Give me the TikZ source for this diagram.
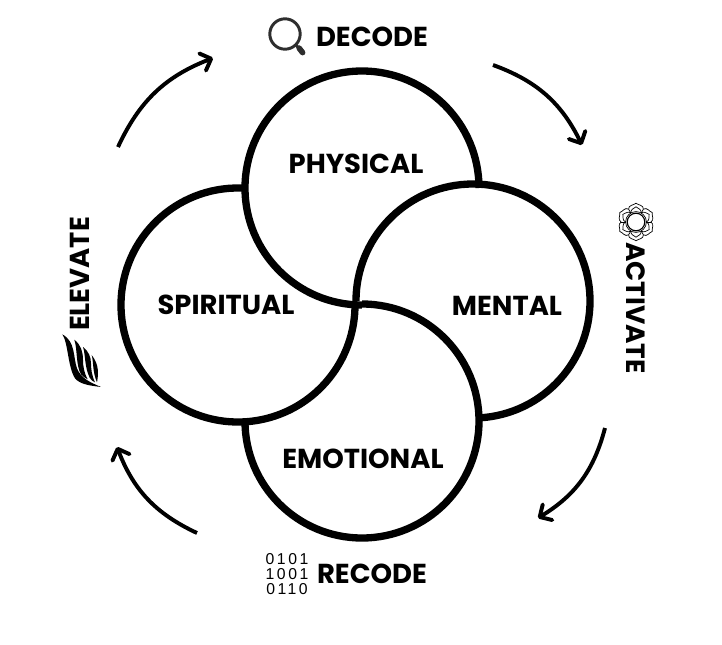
\documentclass[tikz,border=0pt]{standalone}
\usepackage{fontspec}
\setmainfont{Poppins}
\newfontfamily\digitfont[LetterSpace=16]{Liberation Sans}
\usepackage{xcolor}
\definecolor{Ink}{HTML}{000000}
\definecolor{InkSoft}{HTML}{2E2E2E}
\usetikzlibrary{arrows.meta, calc}

\begin{document}
\begin{tikzpicture}[
  ring/.style={line width=5.2pt, draw=Ink, line cap=butt},
  flow/.style={-{Straight Barb[length=6.5pt, width=13pt, line width=2.8pt, round]}, line width=2.8pt, draw=Ink, bend left=22},
  tag/.style={font=\fontsize{19.5}{23}\selectfont\bfseries, text=Ink, inner sep=0pt},
  bits/.style={font=\fontsize{11.2}{10.6}\selectfont\digitfont, text=Ink, inner sep=0pt, align=center},
  lens/.style={line width=2.1pt, draw=InkSoft},
  petal/.style={line width=0.5pt, draw=Ink}
]
\useasboundingbox (-8.925,-8.475) rectangle (9.125,7.625);

%% ---- Ring centres ----
\def\ringr{2.925}
\coordinate (physical)  at ( 0.125, 2.925);
\coordinate (mental)    at ( 2.900, 0.100);
\coordinate (emotional) at ( 0.125,-2.900);
\coordinate (spiritual) at (-2.975, 0.000);

%% ---- Rings, each one open on the quarter that the next one crosses ----
\draw[ring] ([shift={(0:\ringr)}]physical)   arc[start angle=0,   end angle=270,  radius=\ringr];
\draw[ring] ([shift={(273:\ringr)}]mental)   arc[start angle=273, end angle=540,  radius=\ringr];
\draw[ring] ([shift={(90:\ringr)}]emotional) arc[start angle=90,  end angle=-180, radius=\ringr];
\draw[ring] ([shift={(86:\ringr)}]spiritual) arc[start angle=86,  end angle=360,  radius=\ringr];

%% ---- Ring labels ----
\node[tag] (physicaltxt)  at (-0.025, 3.525) {PHYSICAL};
\node[tag] (spiritualtxt) at (-3.275, 0.000) {SPIRITUAL};
\node[tag] (mentaltxt)    at ( 3.750,-0.025) {MENTAL};
\node[tag] (emotionaltxt) at ( 0.150,-3.850) {EMOTIONAL};

%% ---- Outer labels ----
\node[tag] (decode)   at ( 0.375, 6.700) {DECODE};
\node[tag] (recode)   at ( 0.375,-6.725) {RECODE};
\node[tag, rotate=90]  (elevate)  at (-6.925, 0.775) {ELEVATE};
\node[tag, rotate=-90, font=\fontsize{18.8}{23}\selectfont\bfseries] (activate) at ( 6.975,-0.075) {ACTIVATE};

%% ---- Cycle arrows ----
\coordinate (a1) at (-5.975, 3.950);
\coordinate (a2) at (-3.600, 6.175);
\coordinate (b1) at ( 3.400, 6.000);
\coordinate (b2) at ( 5.625, 4.000);
\coordinate (c1) at ( 6.200,-3.075);
\coordinate (c2) at ( 4.525,-5.325);
\coordinate (d1) at (-4.000,-5.700);
\coordinate (d2) at (-6.000,-3.550);
\draw[flow] (a1) to (a2);
\draw[flow] (b1) to (b2);
\draw[flow] (c1) to (c2);
\draw[flow] (d1) to (d2);

%% ---- Decode icon: magnifier ----
\node[lens, circle, minimum size=0.76cm, inner sep=0pt] (glass) at (-1.800, 6.775) {};
\coordinate (grip) at (-1.360, 6.310);
\draw[lens] (glass) ++(-45:0.39) -- (grip);
\draw[line width=4pt, draw=InkSoft, line cap=round] ($(glass)+(-45:0.50)$) -- (grip);

%% ---- Recode icon: bits ----
\node[bits] (binary) at (-1.750,-6.725) {0101\\1001\\0110};

%% ---- Activate icon: lotus ----
\coordinate (lotus) at (6.975, 2.075);
\draw[petal] (lotus) circle (0.26);
\draw[petal, line width=0.8pt] (lotus) circle (0.22);
\foreach \a in {30,90,...,330} {
  \draw[petal] ($(lotus)+(\a-30:0.37)$) .. controls ($(lotus)+(\a-24:0.47)$) and ($(lotus)+(\a-8:0.42)$) .. ($(lotus)+(\a:0.47)$)
               .. controls ($(lotus)+(\a+8:0.42)$) and ($(lotus)+(\a+24:0.47)$) .. ($(lotus)+(\a+30:0.37)$);
  \draw[petal] ($(lotus)+(\a-30:0.26)$) .. controls ($(lotus)+(\a-22:0.36)$) and ($(lotus)+(\a-8:0.33)$) .. ($(lotus)+(\a:0.38)$)
               .. controls ($(lotus)+(\a+8:0.33)$) and ($(lotus)+(\a+22:0.36)$) .. ($(lotus)+(\a+30:0.26)$);
  \draw[petal] ($(lotus)+(\a-30:0.26)$) -- ($(lotus)+(\a-30:0.37)$);
}

%% ---- Elevate icon: wing ----
\begin{scope}[shift={(-7.55,-0.5)}, x=0.00833cm, y=-0.00833cm]
  \fill[Ink] (22,28) .. controls (40,55) and (38,125) .. (60,160) .. controls (75,178) and (105,182) .. (138,186)
             .. controls (105,172) and (78,160) .. (66,130) .. controls (54,95) and (62,50) .. (22,28) -- cycle;
  \fill[Ink] (58,44) .. controls (68,75) and (62,120) .. (78,148) .. controls (84,155) and (92,160) .. (98,163)
             .. controls (88,145) and (84,125) .. (84,105) .. controls (84,80) and (78,60) .. (58,44) -- cycle;
  \fill[Ink] (84,66) .. controls (92,90) and (88,125) .. (104,158) .. controls (108,165) and (114,170) .. (120,172)
             .. controls (110,150) and (108,130) .. (108,115) .. controls (108,95) and (100,78) .. (84,66) -- cycle;
  \fill[Ink] (110,90) .. controls (116,110) and (112,140) .. (126,172) .. controls (130,150) and (134,120) .. (110,90) -- cycle;
\end{scope}

\end{tikzpicture}
\end{document}
